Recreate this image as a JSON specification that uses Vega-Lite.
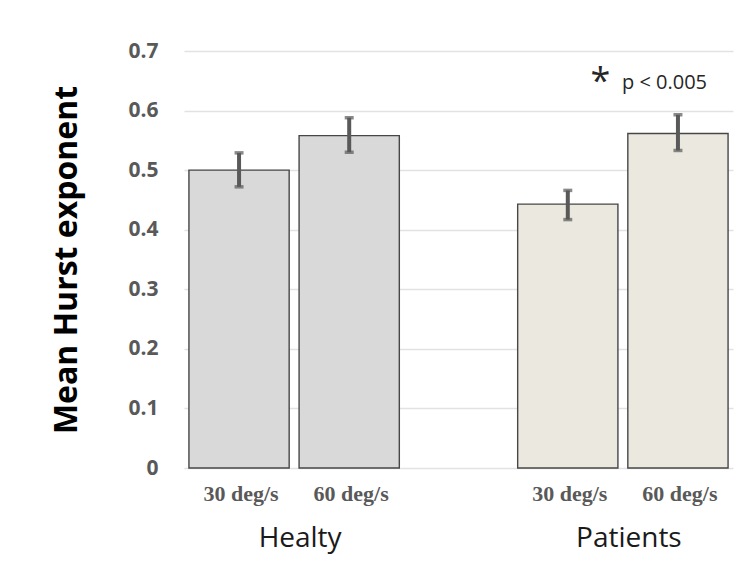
{
  "$schema": "https://vega.github.io/schema/vega-lite/v6.json",
  "autosize": {"type": "none"},
  "width": 549,
  "height": 417,
  "padding": {"left": 184, "top": 51, "right": 4, "bottom": 100},
  "background": "white",
  "config": {"view": {"stroke": null}, "font": "Open Sans"},
  "data": {
    "values": [
      {"group": "Healty", "speed": "30 deg/s", "mean": 0.500, "lo": 0.472, "hi": 0.529},
      {"group": "Healty", "speed": "60 deg/s", "mean": 0.558, "lo": 0.530, "hi": 0.588},
      {"group": "Patients", "speed": "30 deg/s", "mean": 0.443, "lo": 0.417, "hi": 0.466},
      {"group": "Patients", "speed": "60 deg/s", "mean": 0.5615, "lo": 0.533, "hi": 0.593}
    ]
  },
  "encoding": {
    "x": {
      "field": "group",
      "type": "nominal",
      "scale": {"paddingInner": 0.36, "paddingOuter": 0.015},
      "axis": {
        "title": null,
        "domain": false,
        "ticks": false,
        "labelAngle": 0,
        "labelFont": "Open Sans",
        "labelFontSize": 28,
        "labelColor": "#1a1a1a",
        "labelPadding": 56,
        "labelOffset": 6
      }
    },
    "xOffset": {
      "field": "speed",
      "type": "nominal",
      "scale": {"paddingInner": 0.09, "paddingOuter": 0}
    }
  },
  "layer": [
    {
      "mark": {"type": "bar", "stroke": "#474747", "strokeWidth": 1.4},
      "encoding": {
        "y": {
          "field": "mean",
          "type": "quantitative",
          "scale": {"domain": [0, 0.7], "nice": false},
          "axis": {
            "title": "Mean Hurst exponent",
            "titleFont": "Open Sans",
            "titleFontSize": 32,
            "titleFontWeight": "bold",
            "titleColor": "#000000",
            "titlePadding": 44,
            "domain": false,
            "ticks": false,
            "grid": true,
            "gridColor": "#e2e2e2",
            "gridWidth": 1.5,
            "values": [0, 0.1, 0.2, 0.3, 0.4, 0.5, 0.6, 0.7],
            "labelExpr": "datum.value === 0 ? '0' : format(datum.value, '.1f')",
            "labelFont": "Open Sans",
            "labelFontSize": 21,
            "labelFontWeight": "bold",
            "labelColor": "#595959",
            "labelPadding": 26
          }
        },
        "color": {
          "field": "group",
          "type": "nominal",
          "scale": {"range": ["#d9d9d9", "#ebe9df"]},
          "legend": null
        }
      }
    },
    {
      "mark": {"type": "rule", "color": "#595959", "strokeWidth": 4},
      "encoding": {
        "y": {"field": "lo", "type": "quantitative"},
        "y2": {"field": "hi"}
      }
    },
    {
      "mark": {"type": "tick", "color": "#595959", "thickness": 3.5, "size": 9},
      "encoding": {"y": {"field": "lo", "type": "quantitative"}}
    },
    {
      "mark": {"type": "tick", "color": "#595959", "thickness": 3.5, "size": 9},
      "encoding": {"y": {"field": "hi", "type": "quantitative"}}
    },
    {
      "mark": {
        "type": "text",
        "font": "Liberation Serif",
        "fontWeight": "bold",
        "fontSize": 22,
        "color": "#595959",
        "baseline": "alphabetic",
        "dy": 33,
        "dx": 2
      },
      "encoding": {
        "text": {"field": "speed"},
        "y": {"datum": 0}
      }
    },
    {
      "data": {"values": [{"group": "Patients", "speed": "60 deg/s", "star": "*", "note": "p < 0.005"}]},
      "mark": {
        "type": "text",
        "font": "Open Sans",
        "fontSize": 36,
        "color": "#262626",
        "baseline": "alphabetic",
        "align": "center",
        "dx": -77.5
      },
      "encoding": {
        "text": {"field": "star"},
        "y": {"datum": 0.63}
      }
    },
    {
      "data": {"values": [{"group": "Patients", "speed": "60 deg/s", "star": "*", "note": "p < 0.005"}]},
      "mark": {
        "type": "text",
        "font": "Open Sans",
        "fontSize": 20,
        "color": "#262626",
        "baseline": "alphabetic",
        "align": "left",
        "dx": -56
      },
      "encoding": {
        "text": {"field": "note"},
        "y": {"datum": 0.636}
      }
    }
  ]
}
